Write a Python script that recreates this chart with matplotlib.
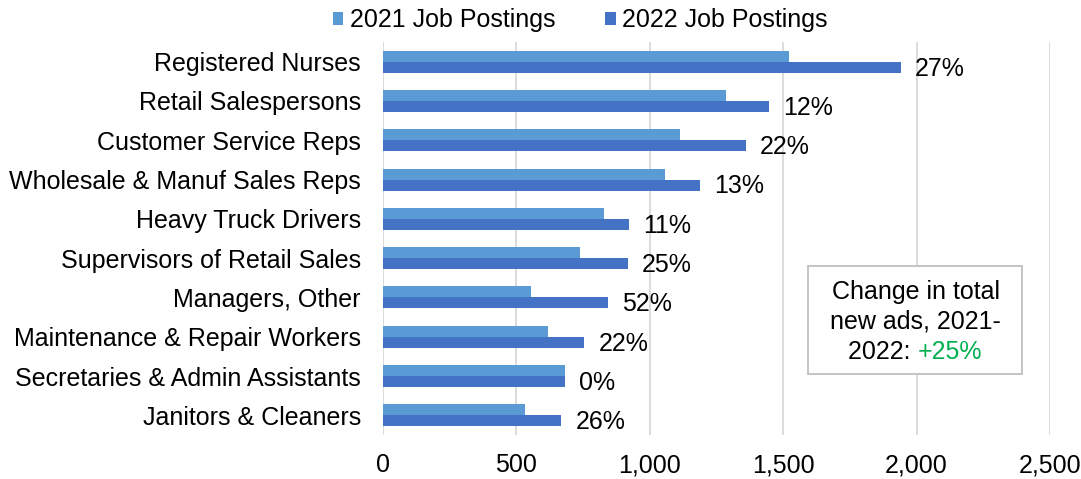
import matplotlib
matplotlib.use("Agg")
import matplotlib.pyplot as plt
from matplotlib.patches import Rectangle
import numpy as np

categories = ["Registered Nurses", "Retail Salespersons", "Customer Service Reps",
              "Wholesale & Manuf Sales Reps", "Heavy Truck Drivers",
              "Supervisors of Retail Sales", "Managers, Other",
              "Maintenance & Repair Workers", "Secretaries & Admin Assistants",
              "Janitors & Cleaners"]
postings_2021 = [1523, 1286, 1112, 1058, 828, 737, 554, 620, 684, 531]
postings_2022 = [1942, 1447, 1359, 1190, 922, 918, 844, 755, 684, 669]
pct_labels = ["27%", "12%", "22%", "13%", "11%", "25%", "52%", "22%", "0%", "26%"]
xticks = [0, 500, 1000, 1500, 2000, 2500]
xtick_labels = ["0", "500", "1,000", "1,500", "2,000", "2,500"]

plt.rcParams['font.family'] = ['Liberation Sans', 'DejaVu Sans']
FS = 18

W, H = 1081, 479
fig = plt.figure(figsize=(W / 100, H / 100), dpi=100)
left, right, top, bottom = 383, 1050, 42, 435
ax = fig.add_axes([left / W, 1 - bottom / H, (right - left) / W, (bottom - top) / H])

c21 = "#5B9BD5"
c22 = "#4472C4"
n = len(categories)
y = np.arange(n)
h = 0.28
ax.barh(y - h / 2, postings_2021, height=h, color=c21, label="2021 Job Postings", zorder=3)
ax.barh(y + h / 2, postings_2022, height=h, color=c22, label="2022 Job Postings", zorder=3)

for yi, v, lab in zip(y, postings_2022, pct_labels):
    ax.annotate(lab, xy=(v, yi + h / 2), xytext=(10, -1), textcoords="offset points",
                ha="left", va="center", fontsize=FS, color="black")

ax.set_xlim(0, 2500)
ax.set_ylim(n - 0.5, -0.5)
ax.set_xticks(xticks)
ax.set_xticklabels(xtick_labels, fontsize=FS)
ax.set_yticks(y)
ax.set_yticklabels(categories, fontsize=FS)
ax.tick_params(axis="both", length=0)
ax.tick_params(axis="x", pad=13)
ax.tick_params(axis="y", pad=16)
ax.grid(axis="x", color="#D9D9D9", linewidth=1.3, zorder=0)
for s in ax.spines.values():
    s.set_visible(False)

leg = fig.legend(loc="center", bbox_to_anchor=(580 / W, 1 - 20 / H), ncol=2, frameon=False,
                 fontsize=FS, handlelength=0.42, handleheight=0.42, handletextpad=0.25,
                 columnspacing=2.0, borderpad=0)

# Text box
bx0, by0, bx1, by1 = 808, 266, 1022, 374
fig.patches.append(Rectangle((bx0 / W, 1 - by1 / H), (bx1 - bx0) / W, (by1 - by0) / H,
                             transform=fig.transFigure, facecolor="white",
                             edgecolor="#BFBFBF", linewidth=1.3, zorder=5))
cx = 915.5 / W
fig.text(cx, 1 - 292 / H, "Change in total", ha="center", va="center", fontsize=FS, zorder=6)
fig.text(cx, 1 - 322 / H, "new ads, 2021-", ha="center", va="center", fontsize=FS, zorder=6)
t1 = fig.text(0, 1 - 352 / H, "2022: ", ha="left", va="center", fontsize=FS, zorder=6)
t2 = fig.text(0, 1 - 352 / H, "+25%", ha="left", va="center", fontsize=FS, color="#00B050", zorder=6)
fig.canvas.draw()
r = fig.canvas.get_renderer()
w1 = t1.get_window_extent(r).width
w2 = t2.get_window_extent(r).width
start = 915.5 - (w1 + w2) / 2
t1.set_x(start / W)
t2.set_x((start + w1) / W)

fig.savefig("out.png", dpi=100)
